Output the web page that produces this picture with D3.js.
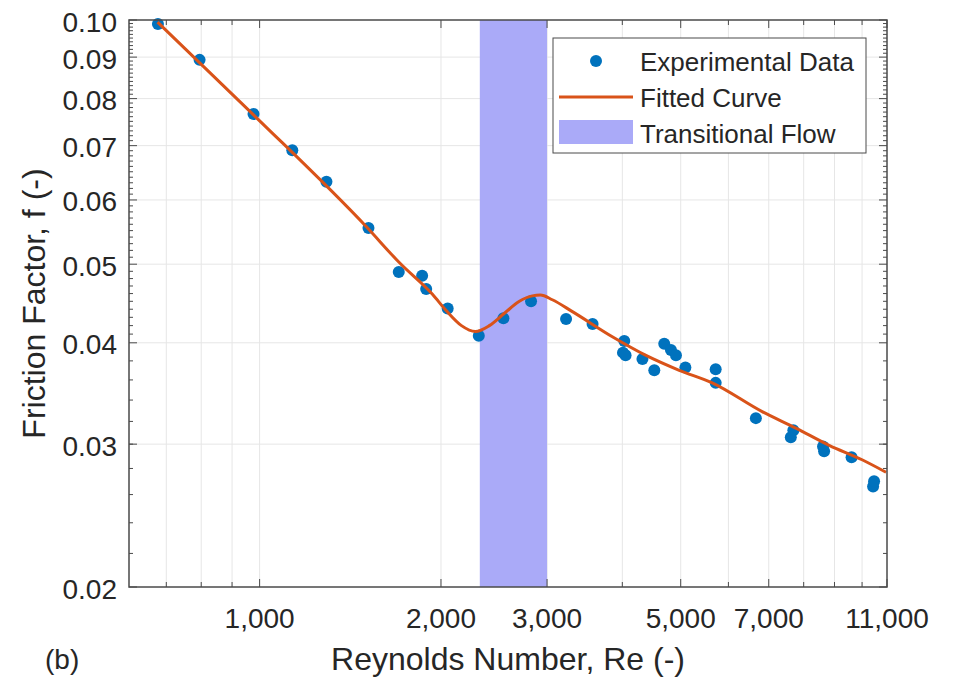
<!DOCTYPE html>
<html>
<head>
<meta charset="utf-8">
<script src="https://cdn.jsdelivr.net/npm/d3@7"></script>
<style>
  html, body { margin: 0; padding: 0; background: #ffffff; }
  svg { display: block; }
  text { font-family: "Liberation Sans", Arial, Helvetica, sans-serif; fill: #262626; }
</style>
</head>
<body>
<svg id="chart" width="957" height="682"></svg>
<script>
// Measured friction factor vs Reynolds number
const dataRe = [678, 795, 977, 1133, 1291, 1516, 1702, 1861, 1890, 2052,
                2311, 2539, 2822, 3226, 3570, 4030, 4010, 4050, 4320, 4520,
                4695, 4817, 4910, 5090, 5715, 5715, 6664, 7616, 7690, 8614,
                8650, 9607, 10430, 10470];
const dataF  = [0.0989, 0.0893, 0.0766, 0.0691, 0.0632, 0.0554, 0.0489, 0.0484, 0.0466, 0.0441,
                0.0408, 0.0429, 0.0450, 0.0428, 0.0422, 0.0402, 0.0389, 0.0386, 0.0382, 0.0370,
                0.0399, 0.0392, 0.0386, 0.0373, 0.0371, 0.0357, 0.0323, 0.0306, 0.0312, 0.0298,
                0.0294, 0.0289, 0.0266, 0.0270];

// Fitted correlation curve
const fitRe = [677, 977, 1504, 1707, 1936, 2042, 2163, 2281, 2406, 2549,
               2699, 2836, 2924, 3061, 3305, 3850, 4378, 4972, 5640, 6826,
               7763, 8817, 10000, 10960];
const fitF  = [0.0994, 0.0764, 0.0556, 0.0502, 0.0459, 0.0438, 0.0420, 0.0413, 0.0420, 0.0435,
               0.0450, 0.0457, 0.0458, 0.0452, 0.0437, 0.0407, 0.0386, 0.0370, 0.0357, 0.0329,
               0.0314, 0.0299, 0.0287, 0.0277];

// Transitional flow band (Re range)
const transitionRange = [2320, 3000];

// Axis ticks
const xTickValues = [1000, 2000, 3000, 5000, 7000, 11000];
const xTickLabels = ["1,000", "2,000", "3,000", "5,000", "7,000", "11,000"];
const xGridValues = [700, 800, 900, 1000, 2000, 3000, 4000, 5000, 6000, 7000, 8000, 9000, 10000];
const yTickValues = [0.02, 0.03, 0.04, 0.05, 0.06, 0.07, 0.08, 0.09, 0.10];
const yTickLabels = ["0.02", "0.03", "0.04", "0.05", "0.06", "0.07", "0.08", "0.09", "0.10"];

const svg = d3.select("#chart");
const plotL = 129, plotR = 887, plotT = 20, plotB = 587;

const x = d3.scaleLog().domain([607, 11000]).range([plotL, plotR]);
const y = d3.scaleLog().domain([0.02, 0.1]).range([plotB, plotT]);

const axisColor = "#4a4a4a";
const gridColor = "#e6e6e6";

// Grid
const grid = svg.append("g");
grid.selectAll("line.vg").data(xGridValues).join("line")
  .attr("x1", d => x(d)).attr("x2", d => x(d))
  .attr("y1", plotT).attr("y2", plotB)
  .attr("stroke", gridColor).attr("stroke-width", 1);
grid.selectAll("line.hg").data(yTickValues.slice(1, -1)).join("line")
  .attr("x1", plotL).attr("x2", plotR)
  .attr("y1", d => y(d)).attr("y2", d => y(d))
  .attr("stroke", gridColor).attr("stroke-width", 1);

// Transitional band
svg.append("rect")
  .attr("x", x(transitionRange[0]))
  .attr("y", plotT)
  .attr("width", x(transitionRange[1]) - x(transitionRange[0]))
  .attr("height", plotB - plotT)
  .attr("fill", "#aaaaf8");

// Ticks (inward, on all four sides)
const ticks = svg.append("g").attr("stroke", axisColor).attr("stroke-width", 1);
const yMinor = [];
for (let v = 22; v < 40; v += 2) yMinor.push(v / 1000);
for (let v = 41; v < 100; v += 1) if (v % 10 !== 0) yMinor.push(v / 1000);
const xMinor = [700, 800, 900, 4000, 6000, 8000, 9000, 10000];

function yTick(v, len) {
  ticks.append("line").attr("x1", plotL).attr("x2", plotL + len).attr("y1", y(v)).attr("y2", y(v));
  ticks.append("line").attr("x1", plotR).attr("x2", plotR - len).attr("y1", y(v)).attr("y2", y(v));
}
function xTick(v, len) {
  ticks.append("line").attr("y1", plotB).attr("y2", plotB - len).attr("x1", x(v)).attr("x2", x(v));
  ticks.append("line").attr("y1", plotT).attr("y2", plotT + len).attr("x1", x(v)).attr("x2", x(v));
}
yTickValues.forEach(v => yTick(v, 8));
yMinor.forEach(v => yTick(v, 4));
xTickValues.forEach(v => xTick(v, 8));
xMinor.forEach(v => xTick(v, 5));

// Experimental points
const pts = dataRe.map((r, i) => [r, dataF[i]]);
svg.append("g").selectAll("circle").data(pts).join("circle")
  .attr("cx", d => x(d[0])).attr("cy", d => y(d[1]))
  .attr("r", 6).attr("fill", "#0072BD");

// Fitted curve
const fit = fitRe.map((r, i) => [r, fitF[i]]);
svg.append("path")
  .datum(fit)
  .attr("d", d3.line().x(d => x(d[0])).y(d => y(d[1])).curve(d3.curveMonotoneX))
  .attr("fill", "none").attr("stroke", "#D95319").attr("stroke-width", 3)
  .attr("stroke-linejoin", "round");

// Frame
svg.append("rect")
  .attr("x", plotL).attr("y", plotT)
  .attr("width", plotR - plotL).attr("height", plotB - plotT)
  .attr("fill", "none").attr("stroke", axisColor).attr("stroke-width", 1.5);

// Tick labels
svg.append("g").selectAll("text").data(yTickValues).join("text")
  .attr("x", 117).attr("y", d => y(d) + 2)
  .attr("text-anchor", "end").attr("dominant-baseline", "central")
  .attr("font-size", 28)
  .text((d, i) => yTickLabels[i]);

svg.append("g").selectAll("text").data(xTickValues).join("text")
  .attr("x", d => x(d)).attr("y", 628)
  .attr("text-anchor", "middle")
  .attr("font-size", 28)
  .text((d, i) => xTickLabels[i]);

// Axis titles
svg.append("text")
  .attr("x", (plotL + plotR) / 2).attr("y", 670)
  .attr("text-anchor", "middle").attr("font-size", 32)
  .text("Reynolds Number, Re (-)");

svg.append("text")
  .attr("transform", `translate(45,${(plotT + plotB) / 2}) rotate(-90)`)
  .attr("text-anchor", "middle").attr("font-size", 32)
  .text("Friction Factor, f (-)");

svg.append("text")
  .attr("x", 45).attr("y", 669)
  .attr("font-size", 28)
  .text("(b)");

// Legend
const lg = svg.append("g");
lg.append("rect")
  .attr("x", 553).attr("y", 38).attr("width", 313).attr("height", 115)
  .attr("fill", "#ffffff").attr("stroke", axisColor).attr("stroke-width", 1);
lg.append("circle").attr("cx", 596).attr("cy", 61).attr("r", 6).attr("fill", "#0072BD");
lg.append("line").attr("x1", 559).attr("x2", 633).attr("y1", 97).attr("y2", 97)
  .attr("stroke", "#D95319").attr("stroke-width", 3);
lg.append("rect").attr("x", 559).attr("y", 120).attr("width", 74).attr("height", 24)
  .attr("fill", "#aaaaf8");
const legendLabels = ["Experimental Data", "Fitted Curve", "Transitional Flow"];
lg.selectAll("text.lbl").data(legendLabels).join("text")
  .attr("x", 640).attr("y", (d, i) => [62, 98, 134][i])
  .attr("dominant-baseline", "central")
  .attr("font-size", 26)
  .text(d => d);
</script>
</body>
</html>
